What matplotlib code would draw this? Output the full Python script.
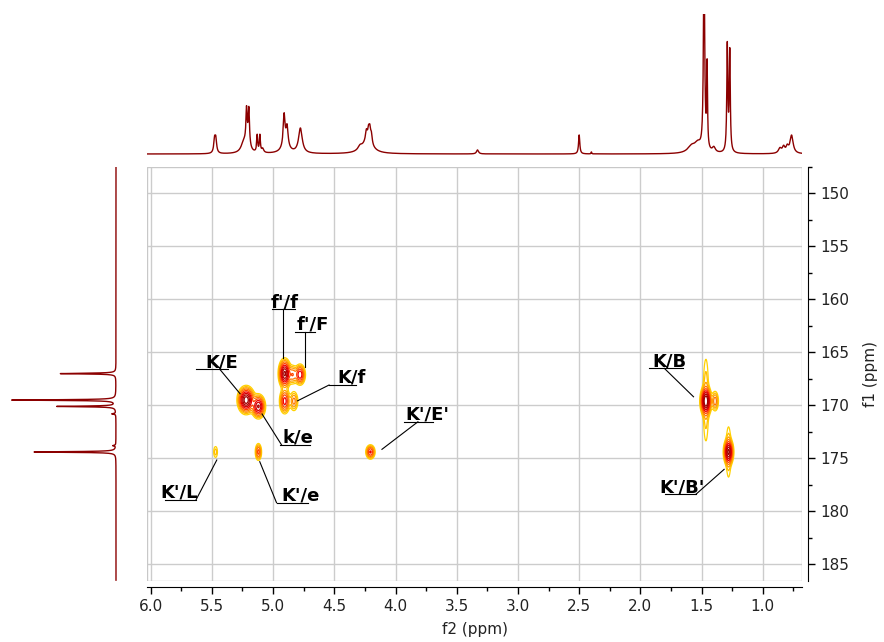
import numpy as np
import matplotlib.pyplot as plt
from matplotlib.ticker import MultipleLocator, FormatStrFormatter
from matplotlib.patches import Rectangle

# 1H projection (top trace): shift, height (px above baseline), half-width
h_ppm = [5.478, 5.468, 5.24, 5.217, 5.198, 5.207, 5.13, 5.108, 5.085,
         4.91, 4.886, 4.90, 4.777,
         4.29, 4.238, 4.22, 4.21, 4.197, 4.23, 3.33, 2.50, 2.40,
         1.58, 1.53, 1.48, 1.455, 1.40, 1.29, 1.27,
         0.86, 0.83, 0.80, 0.765]
h_int = [13, 13, 10, 33, 35, 8, 17, 17, 4,
         32, 20, 6, 25,
         4, 10, 10, 12, 9, 12, 4, 19, 2,
         7, 8, 200, 82, 5, 106, 100,
         5, 6, 6, 18]
h_hw = [0.008, 0.008, 0.025, 0.006, 0.006, 0.02, 0.005, 0.005, 0.01,
        0.009, 0.01, 0.04, 0.018,
        0.02, 0.009, 0.008, 0.008, 0.008, 0.05, 0.01, 0.006, 0.003,
        0.04, 0.03, 0.006, 0.004, 0.015, 0.005, 0.005,
        0.015, 0.012, 0.012, 0.015]

# 13C projection (left trace)
c_ppm = [167.0, 169.5, 170.1, 170.8, 173.8, 174.4]
c_int = [56, 104, 59, 4, 3, 82]

# HMBC cross peaks: f2 (1H), f1 (13C), amplitude, widths
cp_f2 = [5.22, 5.12, 4.905, 4.84, 4.78, 4.905, 4.83, 5.47, 5.12, 4.205,
         1.465, 1.465, 1.39, 1.28, 1.28]
cp_f1 = [169.5, 170.1, 167.0, 167.1, 167.1, 169.6, 169.6, 174.4, 174.4, 174.4,
         169.6, 169.5, 169.6, 174.4, 174.4]
cp_amp = [1.0, 0.7, 0.9, 0.25, 0.5, 0.45, 0.2, 0.09, 0.3, 0.4,
          1.0, 0.12, 0.22, 0.8, 0.12]
cp_w2 = [0.03, 0.025, 0.022, 0.02, 0.02, 0.02, 0.018, 0.012, 0.013, 0.018,
         0.02, 0.015, 0.015, 0.018, 0.013]
cp_w1 = [0.55, 0.5, 0.6, 0.45, 0.45, 0.55, 0.5, 0.4, 0.4, 0.32,
         0.6, 2.6, 0.5, 0.55, 1.6]

labels = ["K/E", "f'/f", "f'/F", "K/f", "k/e", "K'/E'", "K'/L", "K'/e", "K/B", "K'/B'"]
# text x, underline x0, x1, underline y, leader start x, leader end (x, y)
label_pos = [
    (5.42, 5.63, 5.37, 166.6, 5.435, 5.27, 168.9),
    (4.905, 5.008, 4.823, 160.94, 4.918, 4.918, 165.54),
    (4.674, 4.823, 4.66, 163.06, 4.741, 4.741, 166.4),
    (4.356, 4.543, 4.325, 168.08, 4.543, 4.80, 169.57),
    (4.80, 4.94, 4.70, 173.75, 4.93, 5.09, 170.82),
    (3.738, 3.931, 3.695, 171.55, 3.817, 4.111, 174.15),
    (5.767, 5.883, 5.63, 178.93, 5.63, 5.46, 175.16),
    (4.774, 4.972, 4.714, 179.19, 4.972, 5.109, 175.32),
    (1.764, 1.927, 1.655, 166.5, 1.805, 1.566, 169.19),
    (1.656, 1.797, 1.547, 178.4, 1.547, 1.316, 176.04),
]

x_lim = (6.03, 0.68)
y_lim = (186.58, 147.5)
W, H = 884, 642
line_col = '#8b0000'

fig = plt.figure(figsize=(W / 100, H / 100), dpi=100)
ax = fig.add_axes([147 / W, 1 - 581 / H, 655 / W, 414 / H])
ax_top = fig.add_axes([147 / W, 1 - 160 / H, 655 / W, 146 / H])
ax_left = fig.add_axes([5 / W, 1 - 581 / H, 120 / W, 414 / H])

# contour map
f2 = np.linspace(0.68, 6.03, 1400)
f1 = np.linspace(147.5, 186.6, 900)
X, Y = np.meshgrid(f2, f1)
Z = np.zeros_like(X)
for x0, y0, a, s2, s1 in zip(cp_f2, cp_f1, cp_amp, cp_w2, cp_w1):
    Z += a * np.exp(-0.5 * ((X - x0) / s2) ** 2 - 0.5 * ((Y - y0) / s1) ** 2)

levels = [0.04, 0.07, 0.11, 0.17, 0.26, 0.38, 0.52, 0.68, 0.85]
colors = ['#ffd200', '#ffbe00', '#ffa000', '#ff7800', '#ff4600', '#f00000',
          '#d20000', '#b40000', '#a00000']
ax.contour(X, Y, Z, levels=levels, colors=colors, linewidths=0.9, zorder=3)

ax.set_xlim(*x_lim)
ax.set_ylim(*y_lim)
ax.xaxis.set_major_locator(MultipleLocator(0.5))
ax.xaxis.set_minor_locator(MultipleLocator(0.25))
ax.xaxis.set_major_formatter(FormatStrFormatter('%.1f'))
ax.yaxis.set_major_locator(MultipleLocator(5))
ax.yaxis.set_minor_locator(MultipleLocator(2.5))
ax.yaxis.tick_right()
ax.yaxis.set_label_position('right')
ax.tick_params(which='major', direction='out', length=5, width=1, pad=4,
               labelsize=11, labelcolor='#222222')
ax.tick_params(which='minor', direction='out', length=3, width=1)
ax.grid(True, which='major', color='#cccccc', lw=1)
ax.set_axisbelow(True)
for s in ['top', 'left']:
    ax.spines[s].set_visible(False)
ax.spines['right'].set_position(('outward', 4))
ax.spines['bottom'].set_position(('outward', 4))
ax.add_patch(Rectangle((0, 0), 1, 1, transform=ax.transAxes, fill=False,
                       edgecolor='#c8c8c8', lw=1, zorder=1))
ax.set_xlabel('f2 (ppm)', fontsize=11, color='#222222', labelpad=6)
ax.set_ylabel('f1 (ppm)', fontsize=11, color='#222222', labelpad=10)

for txt, (tx, u0, u1, uy, lx, ex, ey) in zip(labels, label_pos):
    ax.text(tx, uy - 0.2, txt, fontsize=13, fontweight='bold', ha='center',
            va='baseline', zorder=5)
    ax.plot([u0, u1], [uy, uy], color='black', lw=0.8, zorder=5)
    ax.plot([lx, ex], [uy, ey], color='black', lw=0.8, zorder=5)

# top 1H trace
hx = np.linspace(0.68, 6.03, 6000)
hy = np.zeros_like(hx)
for p, a, w in zip(h_ppm, h_int, h_hw):
    hy += a * w ** 2 / ((hx - p) ** 2 + w ** 2)
ax_top.plot(hx, hy, color=line_col, lw=1)
ax_top.set_xlim(*x_lim)
ax_top.set_ylim(-6, 140)
ax_top.axis('off')

# left 13C trace
cy = np.linspace(147.5, 186.5, 6000)
cx = np.zeros_like(cy)
for p, a in zip(c_ppm, c_int):
    cx += a * 0.04 ** 2 / ((cy - p) ** 2 + 0.04 ** 2)
ax_left.plot(cx, cy, color=line_col, lw=1)
ax_left.set_xlim(111, -9)
ax_left.set_ylim(*y_lim)
ax_left.axis('off')

fig.savefig('out.png', dpi=100)
